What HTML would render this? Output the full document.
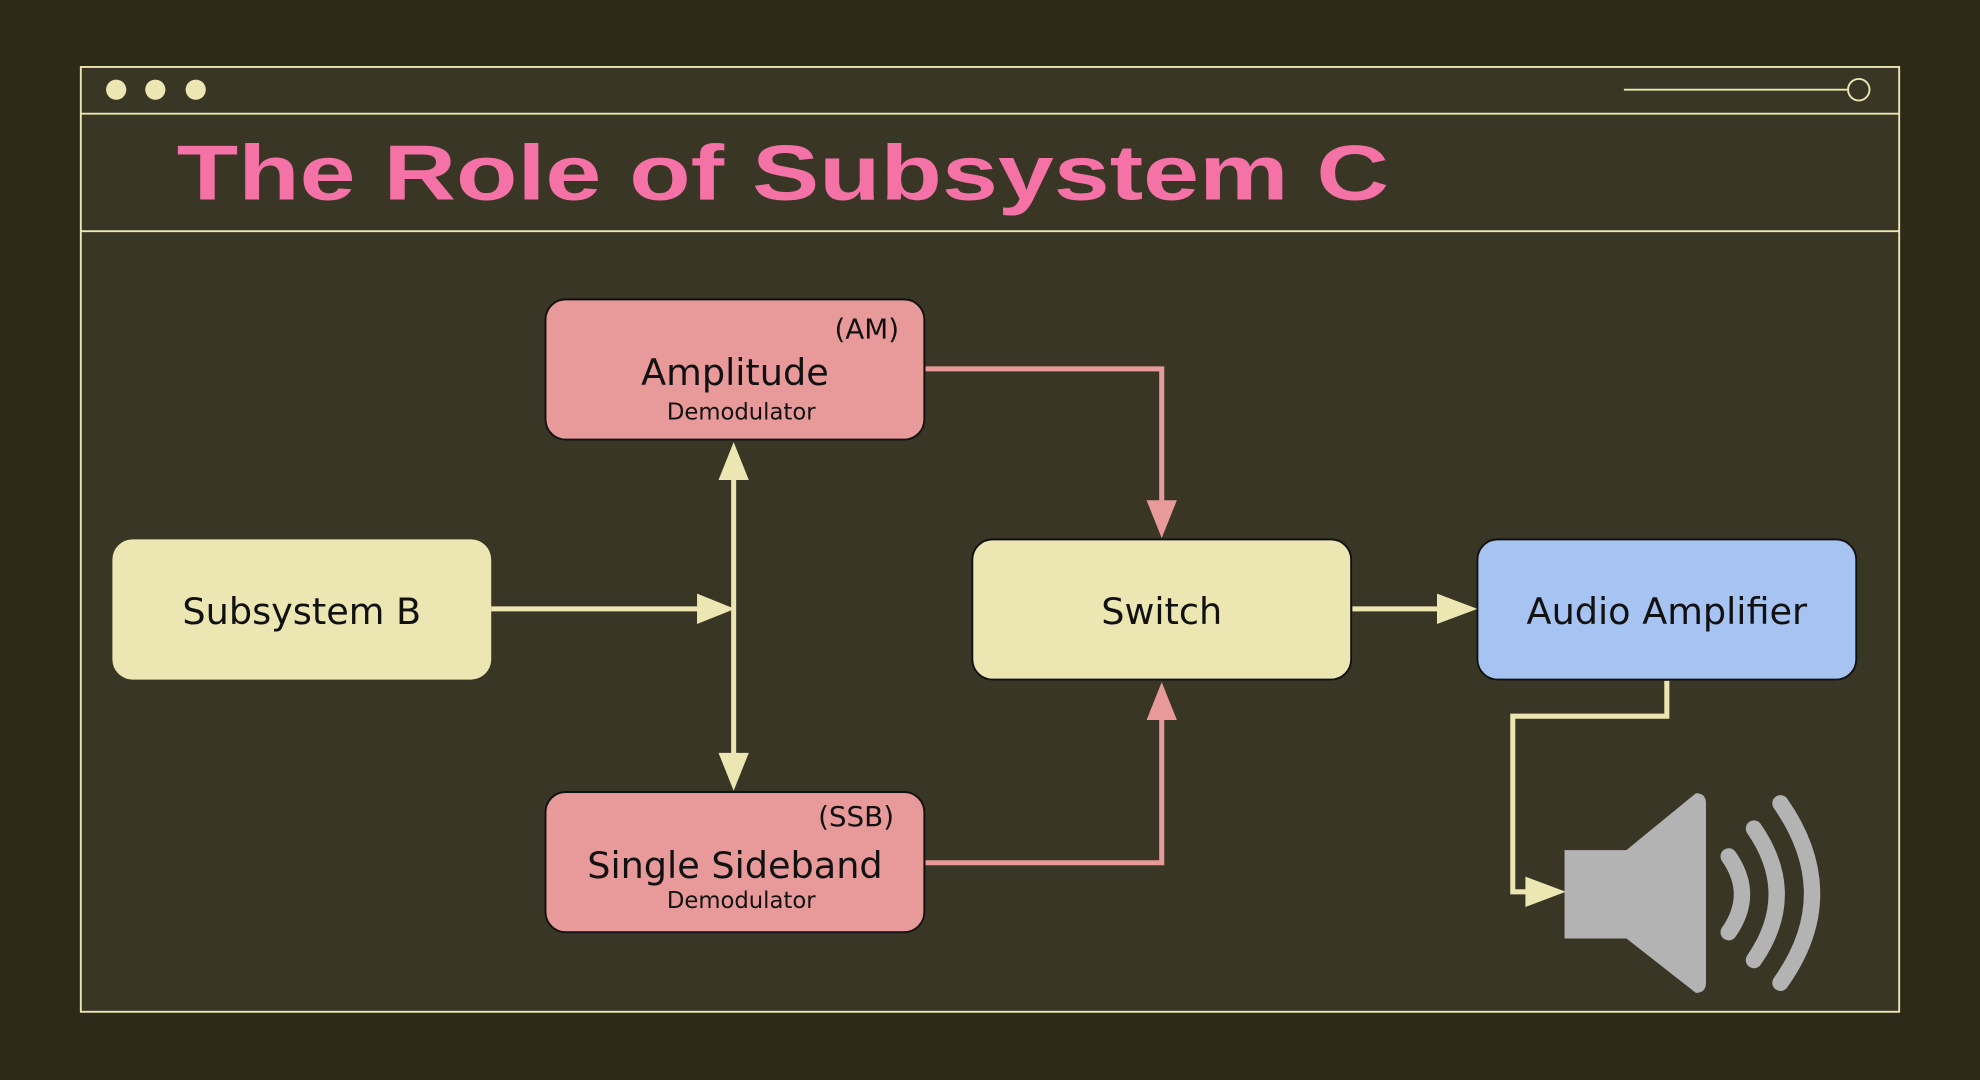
<!DOCTYPE html>
<html><head><meta charset="utf-8"><style>
html,body{margin:0;padding:0;background:#2d2a1a;}
svg{display:block;}
text{font-family:"DejaVu Sans","Liberation Sans",sans-serif;}
</style></head><body>
<svg width="1980" height="1080" viewBox="0 0 1568 855" preserveAspectRatio="none">
<defs>
<marker id="ay" viewBox="0 0 10 10" refX="10" refY="5" markerWidth="6" markerHeight="6" markerUnits="userSpaceOnUse" orient="auto"><path d="M0,0 L10,5 L0,10z" fill="#ece6b2"/></marker>
</defs>
<rect width="1568" height="855" fill="#2d2a1a"/>
<rect x="64" y="53" width="1440" height="748" fill="#3a3626" stroke="#ece6b2" stroke-width="1.5"/>
<line x1="64" y1="90" x2="1504" y2="90" stroke="#ece6b2" stroke-width="1.5"/>
<line x1="64" y1="183" x2="1504" y2="183" stroke="#ece6b2" stroke-width="1.5"/>
<circle cx="92" cy="71" r="8" fill="#ece6b2"/>
<circle cx="123" cy="71" r="8" fill="#ece6b2"/>
<circle cx="155" cy="71" r="8" fill="#ece6b2"/>
<line x1="1286" y1="71" x2="1463" y2="71" stroke="#ece6b2" stroke-width="1.5"/>
<circle cx="1472" cy="71" r="8.5" fill="none" stroke="#ece6b2" stroke-width="1.5"/>
<text x="140" y="158" font-size="62" font-weight="bold" fill="#f472a6" textLength="960" lengthAdjust="spacingAndGlyphs" style="font-family:'Liberation Sans',sans-serif">The Role of Subsystem C</text>

<!-- connectors -->
<g fill="none" stroke-width="4">
<path d="M733,292 H920 V420" stroke="#e89a9a"/>
<path d="M733,683 H920 V545" stroke="#e89a9a"/>
<path d="M389,482 H560" stroke="#ece6b2"/>
<path d="M581,372 V605" stroke="#ece6b2"/>
<path d="M1071,482 H1145" stroke="#ece6b2"/>
<path d="M1320,539 V567 H1198 V706 H1215" stroke="#ece6b2"/>
</g>
<g>
<path d="M908,396 L932,396 L920,426z" fill="#e89a9a"/>
<path d="M908,570 L932,570 L920,540z" fill="#e89a9a"/>
<path d="M552,470 L552,494 L582,482z" fill="#ece6b2"/>
<path d="M569,380 L593,380 L581,350z" fill="#ece6b2"/>
<path d="M569,596 L593,596 L581,626z" fill="#ece6b2"/>
<path d="M1138,470 L1138,494 L1170,482z" fill="#ece6b2"/>
<path d="M1208,694 L1208,718 L1240,706z" fill="#ece6b2"/>
</g>

<g>
<rect x="89" y="427" width="300" height="111" rx="16" fill="#ece6b2"/>
<text x="239" y="494" font-size="29" text-anchor="middle" fill="#111">Subsystem B</text></g>
<g>
<rect x="432" y="237" width="300" height="111" rx="16" fill="#e89a9a" stroke="#111" stroke-width="1.5"/>
<text x="712" y="268" font-size="22" text-anchor="end" fill="#111">(AM)</text>
<text x="582" y="305" font-size="29" text-anchor="middle" fill="#111">Amplitude</text>
<text x="587" y="332" font-size="18" text-anchor="middle" fill="#111">Demodulator</text></g>
<g>
<rect x="432" y="627" width="300" height="111" rx="16" fill="#e89a9a" stroke="#111" stroke-width="1.5"/>
<text x="708" y="654" font-size="22" text-anchor="end" fill="#111">(SSB)</text>
<text x="582" y="695" font-size="29" text-anchor="middle" fill="#111">Single Sideband</text>
<text x="587" y="719" font-size="18" text-anchor="middle" fill="#111">Demodulator</text></g>
<g>
<rect x="770" y="427" width="300" height="111" rx="16" fill="#ece6b2" stroke="#111" stroke-width="1.5"/>
<text x="920" y="494" font-size="29" text-anchor="middle" fill="#111">Switch</text></g>
<g>
<rect x="1170" y="427" width="300" height="111" rx="16" fill="#a6c3f2" stroke="#111" stroke-width="1.5"/>
<text x="1320" y="494" font-size="29" text-anchor="middle" fill="#111">Audio Amplifier</text></g>

<g>
<path d="M1239,673 H1288 L1343,628 Q1351,628 1351,636 V778 Q1351,786 1343,786 L1288,743 H1239z" fill="#b3b3b3"/>
<g fill="none" stroke="#b3b3b3" stroke-width="13" stroke-linecap="round">
<path d="M1369,678 Q1390,708 1369,738"/>
<path d="M1389,656 Q1425,708 1389,760"/>
<path d="M1410,636 Q1460,708 1410,778"/>
</g></g>
</svg>
</body></html>
